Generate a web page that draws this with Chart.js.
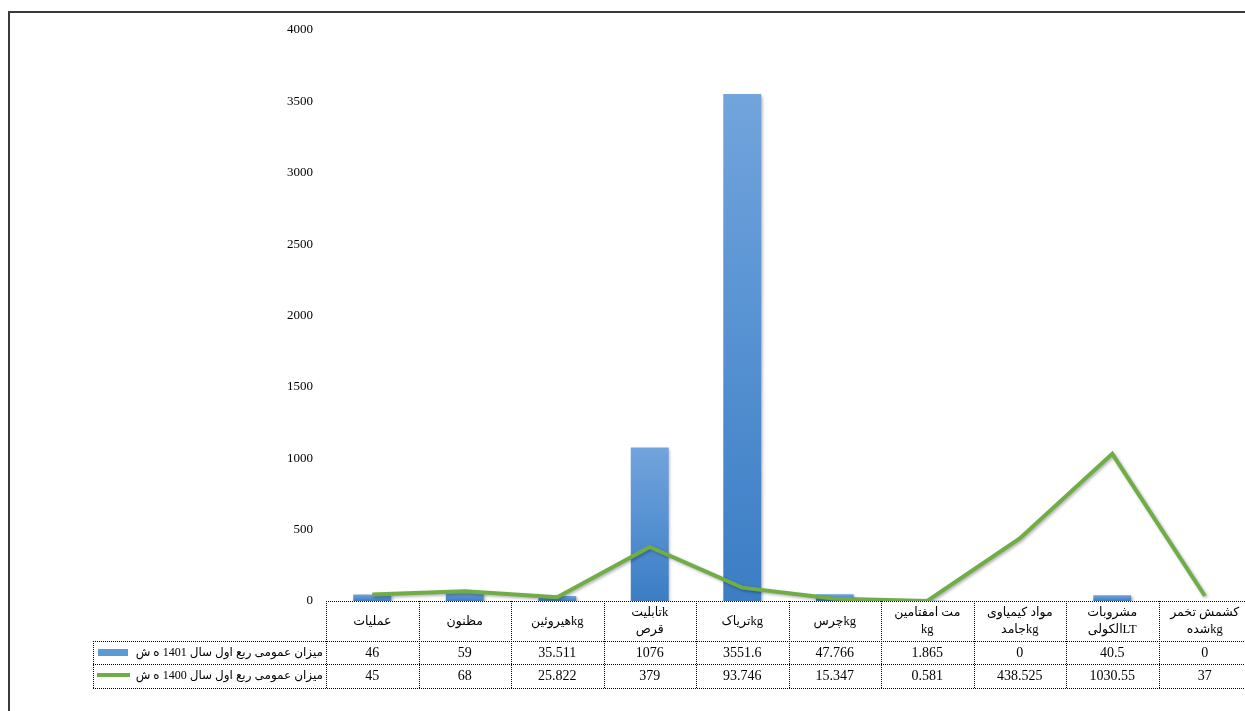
<!DOCTYPE html>
<html>
<head>
<meta charset="utf-8">
<script src="https://cdn.jsdelivr.net/npm/chart.js@4/dist/chart.umd.min.js"></script>
<style>
  html, body { margin: 0; padding: 0; background: #fff; overflow: hidden; }
  #frame { position: absolute; left: 8px; top: 11px; width: 1400px; height: 900px;
           border-left: 2px solid #3a3a3a; border-top: 2px solid #3a3a3a; pointer-events: none; }
  #wrap { position: absolute; left: 0; top: 0; width: 1251px; height: 711px; }
</style>
</head>
<body>
<div id="frame"></div>
<div id="wrap"><canvas id="chart"></canvas></div>
<script>
// categories (header lines of the data table)
var categories = [
  ["عملیات"],
  ["مظنون"],
  ["هیروئینkg"],
  ["تابلیتk", "قرص"],
  ["تریاکkg"],
  ["چرسkg"],
  ["مت امفتامین", "kg"],
  ["مواد کیمیاوی", "جامدkg"],
  ["مشروبات", "الکولیLT"],
  ["کشمش تخمر", "شدهkg"]
];

var series1401Name = "میزان عمومی ربع اول سال 1401 ه ش";
var series1400Name = "میزان عمومی ربع اول سال 1400 ه ش";

var values1401 = [46, 59, 35.511, 1076, 3551.6, 47.766, 1.865, 0, 40.5, 0];
var values1400 = [45, 68, 25.822, 379, 93.746, 15.347, 0.581, 438.525, 1030.55, 37];

var yTicks = [0, 500, 1000, 1500, 2000, 2500, 3000, 3500, 4000];

var serif = '"Liberation Serif", "Times New Roman", "DejaVu Sans", serif';

// bar fill: light at top, darker at base (like the excel gradient)
function barFill(ctx) {
  var chart = ctx.chart;
  if (!chart.chartArea) return '#5b9bd5';
  var y = chart.scales.y;
  var top = y.getPixelForValue(ctx.raw);
  var bottom = y.getPixelForValue(0);
  if (bottom - top < 1) return '#4f8fd0';
  var g = chart.ctx.createLinearGradient(0, top, 0, bottom);
  g.addColorStop(0, '#72a4dc');
  g.addColorStop(0.5, '#5591d2');
  g.addColorStop(1, '#3c7dc4');
  return g;
}

var shadowPlugin = {
  id: 'shadows',
  beforeDatasetDraw: function (chart, args) {
    var ctx = chart.ctx;
    ctx.save();
    ctx.shadowColor = 'rgba(0,0,0,0.3)';
    ctx.shadowBlur = 3;
    ctx.shadowOffsetX = 1.5;
    ctx.shadowOffsetY = 1.5;
  },
  afterDatasetDraw: function (chart) {
    chart.ctx.restore();
  }
};

// data table under the plot
var tablePlugin = {
  id: 'dataTable',
  afterDraw: function (chart) {
    var ctx = chart.ctx;
    var area = chart.chartArea;
    var n = categories.length;
    var colW = (area.right - area.left) / n;
    var top = Math.round(area.bottom);
    var r1 = top + 40, r2 = top + 63, r3 = top + 87;
    var legendLeft = 93;
    var right = chart.width + 2;

    ctx.save();
    ctx.strokeStyle = '#000';
    ctx.lineWidth = 1;
    ctx.setLineDash([1, 1]);
    function hline(x1, x2, y) {
      ctx.beginPath(); ctx.moveTo(x1, y + 0.5); ctx.lineTo(x2, y + 0.5); ctx.stroke();
    }
    function vline(x, y1, y2) {
      ctx.beginPath(); ctx.moveTo(Math.round(x) + 0.5, y1); ctx.lineTo(Math.round(x) + 0.5, y2); ctx.stroke();
    }
    hline(area.left, right, top);
    hline(legendLeft, right, r1);
    hline(legendLeft, right, r2);
    hline(legendLeft, right, r3);
    vline(legendLeft, r1, r3);
    for (var i = 0; i <= n; i++) {
      vline(area.left + i * colW, top, r3);
    }
    ctx.setLineDash([]);

    ctx.fillStyle = '#000';
    ctx.textAlign = 'center';
    ctx.textBaseline = 'middle';
    for (var i = 0; i < n; i++) {
      var cx = chart.scales.x.getPixelForValue(i);
      var lines = categories[i];
      ctx.font = '12.5px ' + serif;
      if (lines.length === 1) {
        ctx.fillText(lines[0], cx, top + 21);
      } else {
        ctx.fillText(lines[0], cx, top + 12);
        ctx.fillText(lines[1], cx, top + 29);
      }
      ctx.font = '14px ' + serif;
      ctx.fillText(String(values1401[i]), cx, r1 + 12);
      ctx.fillText(String(values1400[i]), cx, r2 + 12);
    }

    // legend keys and names
    ctx.font = '12px ' + serif;
    ctx.textAlign = 'right';
    ctx.direction = 'rtl';
    ctx.fillText(series1401Name, area.left - 3, r1 + 12);
    ctx.fillText(series1400Name, area.left - 3, r2 + 12);

    ctx.fillStyle = '#5b9bd5';
    ctx.fillRect(98, r1 + 8, 30, 7);
    ctx.strokeStyle = '#70ad47';
    ctx.lineWidth = 4;
    ctx.beginPath();
    ctx.moveTo(97, r2 + 11);
    ctx.lineTo(130, r2 + 11);
    ctx.stroke();
    ctx.restore();
  }
};

var chart = new Chart(document.getElementById('chart'), {
  data: {
    labels: categories.map(function (c) { return c.join(' '); }),
    datasets: [
      {
        type: 'line',
        label: series1400Name,
        data: values1400,
        borderColor: '#70ad47',
        borderWidth: 4,
        pointRadius: 0,
        tension: 0,
        fill: false,
        order: 1
      },
      {
        type: 'bar',
        label: series1401Name,
        data: values1401,
        backgroundColor: barFill,
        borderWidth: 0,
        barPercentage: 0.41,
        categoryPercentage: 1,
        order: 2
      }
    ]
  },
  options: {
    responsive: true,
    maintainAspectRatio: false,
    animation: false,
    layout: { padding: { left: 0, top: 30, right: 0, bottom: 110 } },
    plugins: {
      legend: { display: false },
      tooltip: { enabled: false }
    },
    scales: {
      x: { display: false, offset: true },
      y: {
        min: yTicks[0],
        max: yTicks[yTicks.length - 1],
        afterBuildTicks: function (scale) {
          scale.ticks = yTicks.map(function (v) { return { value: v }; });
        },
        afterFit: function (scale) { scale.width = 326; },
        ticks: {
          color: '#000',
          padding: 13,
          font: { family: serif, size: 13 },
          callback: function (v) { return String(v); }
        },
        grid: { display: false, drawTicks: false },
        border: { display: false }
      }
    }
  },
  plugins: [shadowPlugin, tablePlugin]
});
</script>
</body>
</html>
